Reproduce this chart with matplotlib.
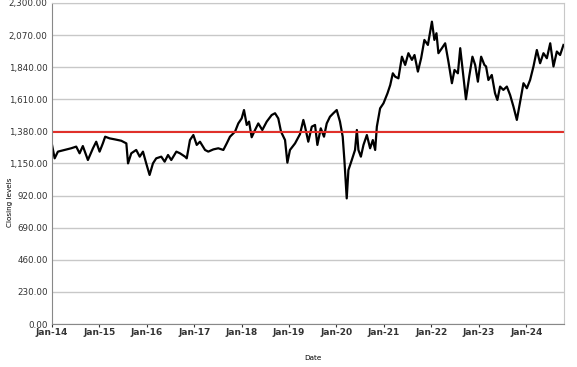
import numpy as np
import pandas as pd
import matplotlib
matplotlib.use("Agg")
import matplotlib.pyplot as plt
import matplotlib.dates as mdates
from matplotlib.ticker import FuncFormatter, MultipleLocator

# closing levels
dates = [
    "2014-01-02", "2014-01-22", "2014-02-16", "2014-04-08", "2014-05-29", "2014-07-07",
    "2014-08-02", "2014-08-27", "2014-10-05", "2014-11-13", "2014-12-08", "2015-01-03",
    "2015-01-28", "2015-02-15", "2015-03-21", "2015-04-29", "2015-06-19", "2015-07-28",
    "2015-08-10", "2015-09-04", "2015-10-12", "2015-11-08", "2015-12-03", "2015-12-28",
    "2016-01-23", "2016-02-18", "2016-03-14", "2016-04-22", "2016-05-18", "2016-06-13",
    "2016-07-08", "2016-08-16", "2016-09-13", "2016-10-22", "2016-11-04", "2016-11-29",
    "2016-12-25", "2017-01-20", "2017-02-14", "2017-03-25", "2017-04-19", "2017-05-28",
    "2017-07-05", "2017-08-13", "2017-09-08", "2017-10-03", "2017-11-11", "2017-12-06",
    "2018-01-01", "2018-01-19", "2018-02-09", "2018-02-27", "2018-03-19", "2018-04-14",
    "2018-05-09", "2018-06-09", "2018-07-13", "2018-08-20", "2018-09-15", "2018-10-10",
    "2018-10-31", "2018-12-01", "2018-12-19", "2019-01-08", "2019-02-16", "2019-03-26",
    "2019-04-21", "2019-05-04", "2019-05-29", "2019-06-25", "2019-07-20", "2019-08-07",
    "2019-09-02", "2019-09-27", "2019-10-18", "2019-11-12", "2019-12-08", "2020-01-03",
    "2020-01-28", "2020-02-18", "2020-03-02", "2020-03-20", "2020-04-02", "2020-04-28",
    "2020-05-23", "2020-06-06", "2020-06-18", "2020-07-07", "2020-07-27", "2020-08-22",
    "2020-09-16", "2020-10-07", "2020-10-25", "2020-11-07", "2020-12-02", "2020-12-28",
    "2021-01-28", "2021-02-18", "2021-03-10", "2021-03-28", "2021-04-22", "2021-05-19",
    "2021-06-13", "2021-07-08", "2021-08-04", "2021-08-24", "2021-09-19", "2021-10-14",
    "2021-11-08", "2021-12-05", "2022-01-05", "2022-01-24", "2022-02-09", "2022-02-24",
    "2022-03-23", "2022-04-17", "2022-05-12", "2022-06-08", "2022-06-28", "2022-07-24",
    "2022-08-11", "2022-09-05", "2022-09-24", "2022-10-19", "2022-11-13", "2022-12-04",
    "2022-12-25", "2023-01-19", "2023-02-13", "2023-02-26", "2023-03-16", "2023-04-11",
    "2023-05-06", "2023-05-24", "2023-06-14", "2023-07-09", "2023-08-05", "2023-08-30",
    "2023-09-25", "2023-10-21", "2023-11-15", "2023-12-11", "2024-01-06", "2024-01-31",
    "2024-02-26", "2024-03-23", "2024-04-17", "2024-05-13", "2024-06-08", "2024-07-04",
    "2024-07-29", "2024-08-24", "2024-09-18", "2024-10-14",
]
closing = [
    1282, 1187, 1235, 1247, 1259, 1271,
    1223, 1275, 1175, 1259, 1306, 1235,
    1294, 1342, 1330, 1323, 1313, 1294,
    1151, 1223, 1247, 1199, 1235, 1151,
    1068, 1151, 1187, 1199, 1163, 1211,
    1175, 1235, 1223, 1199, 1187, 1318,
    1354, 1283, 1306, 1247, 1235, 1251,
    1259, 1247, 1294, 1342, 1378, 1437,
    1473, 1533, 1426, 1450, 1338, 1390,
    1437, 1390, 1450, 1497, 1510, 1473,
    1378, 1318, 1156, 1247, 1294, 1360,
    1462, 1414, 1306, 1414, 1426, 1283,
    1402, 1342, 1437, 1485, 1510, 1533,
    1450, 1342, 1175, 900, 1103, 1175,
    1247, 1390, 1247, 1199, 1283, 1354,
    1259, 1318, 1247, 1414, 1545, 1581,
    1653, 1712, 1796, 1772, 1760, 1915,
    1856, 1940, 1892, 1927, 1808, 1904,
    2035, 1999, 2166, 2035, 2083, 1940,
    1976, 2011, 1880, 1725, 1820, 1796,
    1976, 1772, 1610, 1772, 1915, 1856,
    1736, 1915, 1856, 1845, 1748, 1784,
    1653, 1605, 1701, 1677, 1701, 1641,
    1557, 1462, 1593, 1725, 1689, 1748,
    1845, 1963, 1868, 1940, 1904, 2011,
    1845, 1952, 1927, 1999,
]
ref_level = 1378

x = pd.to_datetime(dates)

fig = plt.figure(figsize=(5.77, 3.67), dpi=100)
ax = fig.add_axes([0.090, 0.117, 0.887, 0.875])

ax.plot(x, closing, color="black", lw=1.6)
ax.axhline(ref_level, color="#e0302a", lw=1.5)

ax.set_ylim(0, 2300)
ax.set_xlim(pd.Timestamp("2014-01-01"), pd.Timestamp("2024-10-16"))
ax.yaxis.set_major_locator(MultipleLocator(230))
ax.yaxis.set_major_formatter(FuncFormatter(lambda v, p: "{:,.2f}".format(v)))
ax.xaxis.set_major_locator(mdates.YearLocator())
ax.xaxis.set_major_formatter(mdates.DateFormatter("%b-%y"))

ax.grid(axis="y", color="#c8c8c8", lw=1)
ax.set_axisbelow(True)
for s in ["top", "right"]:
    ax.spines[s].set_color("#c8c8c8")
for s in ["left", "bottom"]:
    ax.spines[s].set_color("#888888")

ax.tick_params(axis="y", labelsize=6.3, length=0, pad=3, colors="#333333")
ax.tick_params(axis="x", labelsize=6.5, length=2, pad=1, colors="#333333")
for lab in ax.get_xticklabels():
    lab.set_fontweight("bold")

fig.text(0.018, 0.45, "Closing levels", rotation=90, fontsize=5.2, va="center", ha="center")
fig.text(0.543, 0.025, "Date", fontsize=5.2, ha="center", va="center")

fig.savefig("out.png", dpi=100)
